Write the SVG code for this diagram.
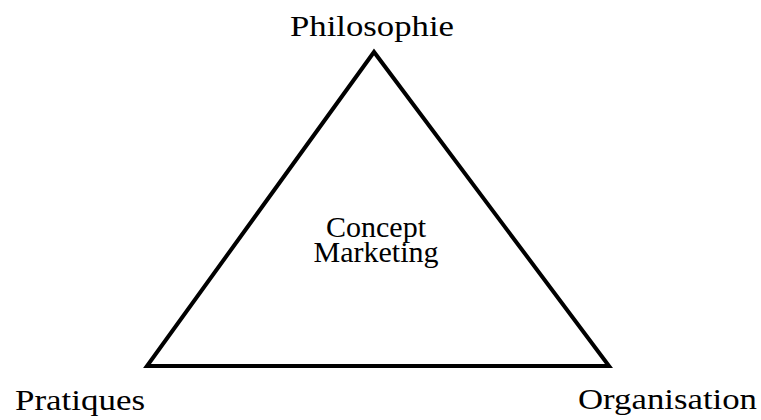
<svg xmlns="http://www.w3.org/2000/svg" width="761" height="420" viewBox="0 0 761 420">
  <style>
    .lbl { font-family: "Liberation Serif", "Times New Roman", serif; font-size: 30px; fill: #000; }
    .edge { fill: none; stroke: #000; stroke-width: 4; stroke-linejoin: miter; }
  </style>
  <rect width="761" height="420" fill="#fff"/>
  <g id="connectors">
    <polygon class="edge" points="374,52 147,366 609,366"/>
  </g>
  <g id="node-philosophie">
    <text class="lbl" x="290" y="36" textLength="164" lengthAdjust="spacingAndGlyphs">Philosophie</text>
  </g>
  <g id="node-pratiques">
    <text class="lbl" x="15" y="410" textLength="130" lengthAdjust="spacingAndGlyphs">Pratiques</text>
  </g>
  <g id="node-organisation">
    <text class="lbl" x="578" y="409" textLength="179" lengthAdjust="spacingAndGlyphs">Organisation</text>
  </g>
  <g id="node-center">
    <text class="lbl" x="376" y="237" text-anchor="middle">Concept</text>
    <text class="lbl" x="376" y="262" text-anchor="middle">Marketing</text>
  </g>
</svg>
